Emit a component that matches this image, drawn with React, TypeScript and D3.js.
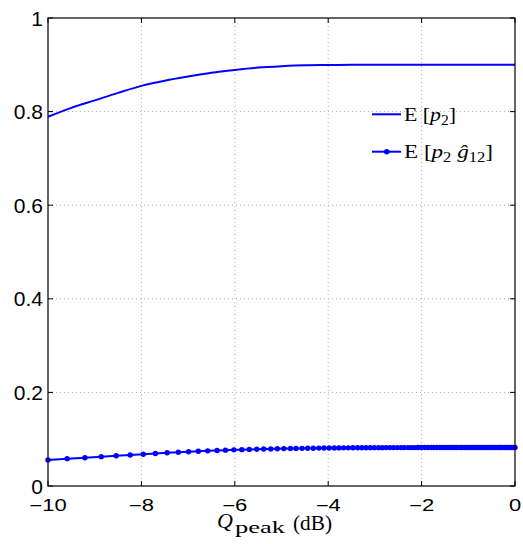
import React from 'react';
import * as d3 from 'd3';

// Q_peak grid (dB) for the marker series
const qDb = [
  -10.0, -9.59, -9.21, -8.86, -8.54, -8.24, -7.96, -7.7, -7.45, -7.21,
  -6.99, -6.78, -6.58, -6.38, -6.2, -6.02, -5.85, -5.69, -5.53, -5.38,
  -5.23, -5.09, -4.95, -4.81, -4.69, -4.56, -4.44, -4.32, -4.2, -4.09,
  -3.98, -3.87, -3.77, -3.67, -3.57, -3.47, -3.37, -3.28, -3.19, -3.1,
  -3.01, -2.92, -2.84, -2.76, -2.68, -2.6, -2.52, -2.44, -2.37, -2.29,
  -2.22, -2.15, -2.08, -2.01, -1.94, -1.87, -1.8, -1.74, -1.67, -1.61,
  -1.55, -1.49, -1.43, -1.37, -1.31, -1.25, -1.19, -1.14, -1.08, -1.02,
  -0.97, -0.92, -0.86, -0.81, -0.76, -0.71, -0.66, -0.6, -0.56, -0.51,
  -0.46, -0.41, -0.36, -0.32, -0.27, -0.22, -0.18, -0.13, -0.09, -0.04,
  0.0,
];

// E[p2 g12]
const pgValues = [
  0.0556, 0.0584, 0.0605, 0.0627, 0.0646, 0.0663, 0.068, 0.0695, 0.0709, 0.0721,
  0.0732, 0.0742, 0.0751, 0.0759, 0.0766, 0.0772, 0.0777, 0.0782, 0.0786, 0.079,
  0.0793, 0.0796, 0.0799, 0.0801, 0.0803, 0.0805, 0.0807, 0.0808, 0.081, 0.0811,
  0.0812, 0.0813, 0.0814, 0.0815, 0.0815, 0.0816, 0.0817, 0.0817, 0.0818, 0.0818,
  0.0819, 0.0819, 0.0819, 0.082, 0.082, 0.082, 0.082, 0.0821, 0.0821, 0.0821,
  0.0821, 0.0821, 0.0822, 0.0822, 0.0822, 0.0822, 0.0822, 0.0822, 0.0822, 0.0822,
  0.0822, 0.0822, 0.0822, 0.0822, 0.0822, 0.0822, 0.0822, 0.0822, 0.0822, 0.0822,
  0.0822, 0.0823, 0.0823, 0.0823, 0.0823, 0.0823, 0.0823, 0.0823, 0.0823, 0.0823,
  0.0823, 0.0823, 0.0823, 0.0823, 0.0823, 0.0823, 0.0823, 0.0823, 0.0823, 0.0823,
  0.0823,
];

// E[p2]
const pDb = [-10, -9.5, -9, -8.5, -8, -7.5, -7, -6.5, -6, -5.5, -5, -4.5, -4, -3.5, -3, -2.5, -2, -1.5, -1, -0.5, 0];
const pValues = [
  0.789, 0.808, 0.824, 0.84, 0.855, 0.866, 0.875, 0.883, 0.889, 0.894,
  0.897, 0.899, 0.8995, 0.8999, 0.9, 0.9, 0.9, 0.9, 0.9, 0.9, 0.9,
];

const xTicks = [-10, -8, -6, -4, -2, 0];
const xTickLabels = ['\u221210', '\u22128', '\u22126', '\u22124', '\u22122', '0'];
const yTicks = [0, 0.2, 0.4, 0.6, 0.8, 1];
const yTickLabels = ['0', '0.2', '0.4', '0.6', '0.8', '1'];

const W = 523;
const H = 544;
const left = 48;
const right = 515;
const top = 18;
const bottom = 486;
const blue = '#0000ff';
const serif = '"Liberation Serif", "DejaVu Serif", serif';
const sans = '"Liberation Sans", Arial, sans-serif';

const App = () => {
  const x = d3.scaleLinear().domain([-10, 0]).range([left, right]);
  const y = d3.scaleLinear().domain([0, 1]).range([bottom, top]);

  const upperLine = d3
    .line<number>()
    .x((d, i) => x(pDb[i]))
    .y((d) => y(d))
    .curve(d3.curveMonotoneX);

  const lowerLine = d3
    .line<number>()
    .x((d, i) => x(qDb[i]))
    .y((d) => y(d));

  const tick = 5;

  return (
    <svg width={W} height={H} style={{ position: 'absolute', left: 0, top: 0, background: '#fff' }}>
      <rect x={0} y={0} width={W} height={H} fill="#fff" />

      {/* grid */}
      {xTicks.slice(1, -1).map((t) => (
        <line key={'gx' + t} x1={x(t)} x2={x(t)} y1={top} y2={bottom}
          stroke="#999" strokeWidth={0.8} strokeDasharray="1,3" />
      ))}
      {yTicks.slice(1, -1).map((t) => (
        <line key={'gy' + t} x1={left} x2={right} y1={y(t)} y2={y(t)}
          stroke="#999" strokeWidth={0.8} strokeDasharray="1,3" />
      ))}

      {/* ticks (inward, all four sides) */}
      {xTicks.map((t) => (
        <g key={'tx' + t} stroke="#000" strokeWidth={1}>
          <line x1={x(t)} x2={x(t)} y1={bottom} y2={bottom - tick} />
          <line x1={x(t)} x2={x(t)} y1={top} y2={top + tick} />
        </g>
      ))}
      {yTicks.map((t) => (
        <g key={'ty' + t} stroke="#000" strokeWidth={1}>
          <line x1={left} x2={left + tick} y1={y(t)} y2={y(t)} />
          <line x1={right} x2={right - tick} y1={y(t)} y2={y(t)} />
        </g>
      ))}

      {/* data */}
      <path d={upperLine(pValues) || ''} fill="none" stroke={blue} strokeWidth={2} />
      <path d={lowerLine(pgValues) || ''} fill="none" stroke={blue} strokeWidth={2} />
      {pgValues.map((v, i) => (
        <circle key={'m' + i} cx={x(qDb[i])} cy={y(v)} r={2.7} fill={blue} />
      ))}

      {/* box */}
      <rect x={left} y={top} width={right - left} height={bottom - top}
        fill="none" stroke="#000" strokeWidth={1.2} />

      {/* tick labels */}
      {xTicks.map((t, i) => (
        <text key={'lx' + t} transform={`translate(${x(t)},510.5) scale(1,0.74)`}
          textAnchor="middle" fontFamily={sans} fontSize={22} fill="#000">
          {xTickLabels[i]}
        </text>
      ))}
      {yTicks.map((t, i) => (
        <text key={'ly' + t} x={43} y={y(t) + 7.5} textAnchor="end"
          fontFamily={sans} fontSize={21} fill="#000">
          {yTickLabels[i]}
        </text>
      ))}

      {/* x label */}
      <g fontFamily={serif} fill="#000">
        <text x={217} y={528} fontSize={22} fontStyle="italic">Q</text>
        <text x={235} y={532.5} fontSize={16} textLength={50} lengthAdjust="spacingAndGlyphs">peak</text>
        <text x={293} y={530} fontSize={21} textLength={39} lengthAdjust="spacingAndGlyphs">(dB)</text>
      </g>

      {/* legend */}
      <g fontFamily={serif} fill="#000">
        <line x1={372} x2={401} y1={114.3} y2={114.3} stroke={blue} strokeWidth={2} />
        <text x={404} y={120.7} fontSize={19.5} textLength={52} lengthAdjust="spacingAndGlyphs">
          E [<tspan fontStyle="italic">p</tspan>
          <tspan fontSize={14} dy={4}>2</tspan>
          <tspan dy={-4}>]</tspan>
        </text>
        <line x1={372} x2={401} y1={151.7} y2={151.7} stroke={blue} strokeWidth={2} />
        <circle cx={386.7} cy={151.7} r={2.7} fill={blue} />
        <text x={404} y={158} fontSize={19.5} textLength={89} lengthAdjust="spacingAndGlyphs">
          E [<tspan fontStyle="italic">p</tspan>
          <tspan fontSize={14} dy={4}>2</tspan>
          <tspan dy={-4} fontStyle="italic">{' \u011D'}</tspan>
          <tspan fontSize={14} dy={4}>12</tspan>
          <tspan dy={-4}>]</tspan>
        </text>
      </g>
    </svg>
  );
};

export default App;
